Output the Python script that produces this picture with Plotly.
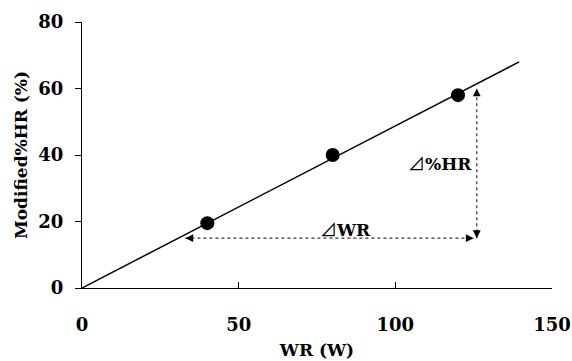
import plotly.graph_objects as go

# Data
wr_points = [40, 80, 120]
hr_points = [19.5, 40, 58]

fit_x = [0, 139.5]
fit_y = [0, 68]

delta_wr_x = [33, 125]
delta_wr_y = [15, 15]
delta_hr_x = [126, 126]
delta_hr_y = [15, 60]

x_ticks = [0, 50, 100, 150]
y_ticks = [0, 20, 40, 60, 80]

label_wr = "WR"
label_hr = "%HR"
label_wr_pos = (84, 18)
label_hr_pos = (114.3, 37.6)

FONT = "DejaVu Serif"
TRI = '<span style="font-family:Noto Sans CJK JP">⊿</span>'

fig = go.Figure()

fig.add_trace(go.Scatter(x=fit_x, y=fit_y, mode="lines",
                         line=dict(color="black", width=1.5), showlegend=False))
fig.add_trace(go.Scatter(x=delta_wr_x, y=delta_wr_y, mode="lines",
                         line=dict(color="#333333", width=1.2, dash="dot"), showlegend=False))
fig.add_trace(go.Scatter(x=delta_hr_x, y=delta_hr_y, mode="lines",
                         line=dict(color="#333333", width=1.2, dash="dot"), showlegend=False))
fig.add_trace(go.Scatter(x=wr_points, y=hr_points, mode="markers",
                         marker=dict(color="black", size=14), showlegend=False))

# arrowheads
def head(x, y, ax, ay):
    fig.add_annotation(x=x, y=y, ax=ax, ay=ay, xref="x", yref="y", axref="x", ayref="y",
                       showarrow=True, arrowhead=2, arrowsize=1.3, arrowwidth=1.2,
                       arrowcolor="black", text="")

head(delta_wr_x[0], delta_wr_y[0], delta_wr_x[0] + 2, delta_wr_y[0])
head(delta_wr_x[1], delta_wr_y[1], delta_wr_x[1] - 2, delta_wr_y[1])
head(delta_hr_x[0], delta_hr_y[0], delta_hr_x[0], delta_hr_y[0] + 2)
head(delta_hr_x[1], delta_hr_y[1], delta_hr_x[1], delta_hr_y[1] - 2)

fig.add_annotation(x=label_wr_pos[0], y=label_wr_pos[1], text=TRI + "<b>" + label_wr + "</b>",
                   showarrow=False, font=dict(family=FONT, size=17, color="black"))
fig.add_annotation(x=label_hr_pos[0], y=label_hr_pos[1], text=TRI + "<b>" + label_hr + "</b>",
                   showarrow=False, font=dict(family=FONT, size=17, color="black"))

fig.update_xaxes(range=[0, 150], tickvals=x_ticks, ticktext=[f"<b>{v}</b>" for v in x_ticks],
                 showline=True, linecolor="black", linewidth=1.2, showgrid=False, zeroline=False,
                 ticks="inside", ticklen=6, tickcolor="black", ticklabelstandoff=20,
                 ticklabeloverflow="allow",
                 tickfont=dict(family=FONT, size=18, color="black"),
                 title=dict(text="<b>WR (W)</b>", font=dict(family=FONT, size=17, color="black"),
                            standoff=10))
fig.update_yaxes(range=[0, 80], tickvals=y_ticks, ticktext=[f"<b>{v}</b>" for v in y_ticks],
                 showline=True, linecolor="black", linewidth=1.2, showgrid=False, zeroline=False,
                 ticks="outside", ticklen=6, tickcolor="black", ticklabelstandoff=8,
                 ticklabeloverflow="allow",
                 tickfont=dict(family=FONT, size=18, color="black"),
                 title=dict(text="<b>Modified%HR (%)</b>", font=dict(family=FONT, size=17, color="black"),
                            standoff=6))

fig.update_layout(width=572, height=361, plot_bgcolor="white", paper_bgcolor="white",
                  margin=dict(l=82, r=20, t=22, b=73, autoexpand=False), showlegend=False)

fig.write_html("out.html", config={"displayModeBar": False},
               post_script="document.body.style.margin='0px';document.body.style.overflow='hidden';")
